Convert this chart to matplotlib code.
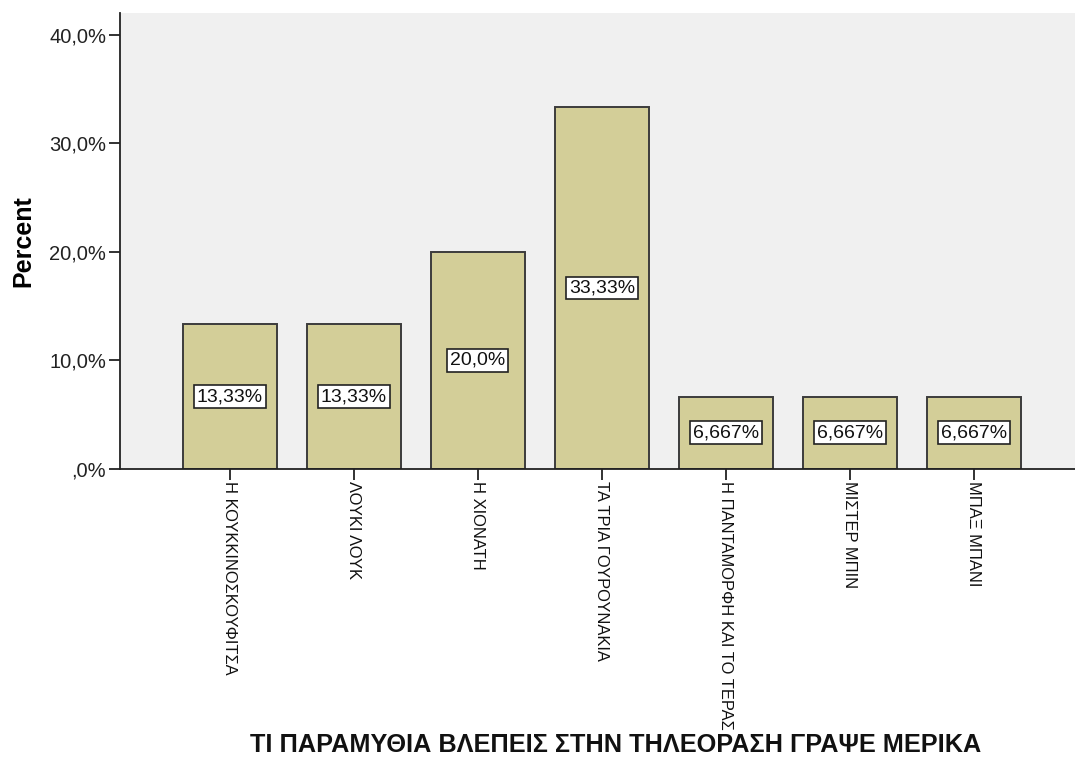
import numpy as np
import matplotlib
matplotlib.use("Agg")
import matplotlib.pyplot as plt

# survey answers and their share of respondents (%)
categories = [
    "Η ΚΟΥΚΚΙΝΟΣΚΟΥΦΙΤΣΑ",
    "ΛΟΥΚΙ ΛΟΥΚ",
    "Η ΧΙΟΝΑΤΗ",
    "ΤΑ ΤΡΙΑ ΓΟΥΡΟΥΝΑΚΙΑ",
    "Η ΠΑΝΤΑΜΟΡΦΗ ΚΑΙ ΤΟ ΤΕΡΑΣ",
    "ΜΙΣΤΕΡ ΜΠΙΝ",
    "ΜΠΑΞ ΜΠΑΝΙ",
]
percents = [13.33, 13.33, 20.0, 33.33, 6.667, 6.667, 6.667]
bar_labels = ["13,33%", "13,33%", "20,0%", "33,33%", "6,667%", "6,667%", "6,667%"]
yticks = [0, 10, 20, 30, 40]
ytick_labels = [",0%", "10,0%", "20,0%", "30,0%", "40,0%"]

plt.rcParams["font.family"] = ["Liberation Sans", "DejaVu Sans"]

fig = plt.figure(figsize=(10.75, 7.6), dpi=100)
ax = fig.add_axes([0.1116, 0.3829, 0.8884, 0.6000])
ax.set_facecolor("#f0f0f0")

x = np.arange(len(categories))
ax.bar(x, percents, width=0.758, color="#d3ce98", edgecolor="#3c3c3c",
       linewidth=1.4, zorder=2)

for xi, v, lab in zip(x, percents, bar_labels):
    ax.text(xi, v / 2, lab, ha="center", va="center", fontsize=14,
            color="#111111", zorder=3,
            bbox=dict(boxstyle="square,pad=0.15", facecolor="white",
                      edgecolor="#222222", linewidth=1.2))

ax.set_xlim(-0.887, 6.815)
ax.set_ylim(0, 42)
ax.set_yticks(yticks)
ax.set_yticklabels(ytick_labels, fontsize=14.5, color="#222222")
ax.set_xticks(x)
ax.set_xticklabels(categories, rotation=270, fontsize=11.9, va="top",
                   ha="center", color="#111111")

ax.tick_params(axis="both", direction="out", length=8, width=1.3,
               color="#222222")
ax.tick_params(axis="x", pad=1)
ax.tick_params(axis="y", pad=2)

for side in ["top", "right"]:
    ax.spines[side].set_visible(False)
for side in ["left", "bottom"]:
    ax.spines[side].set_linewidth(1.3)
    ax.spines[side].set_color("#222222")
    ax.spines[side].set_zorder(4)

ax.set_ylabel("Percent", fontsize=18, fontweight="bold", labelpad=10)
fig.text(0.573, 0.004, "ΤΙ ΠΑΡΑΜΥΘΙΑ ΒΛΕΠΕΙΣ ΣΤΗΝ ΤΗΛΕΟΡΑΣΗ ΓΡΑΨΕ ΜΕΡΙΚΑ",
         ha="center", va="bottom", fontsize=18.2, fontweight="bold",
         color="#111111")

fig.savefig("out.png", dpi=100, facecolor="white")
